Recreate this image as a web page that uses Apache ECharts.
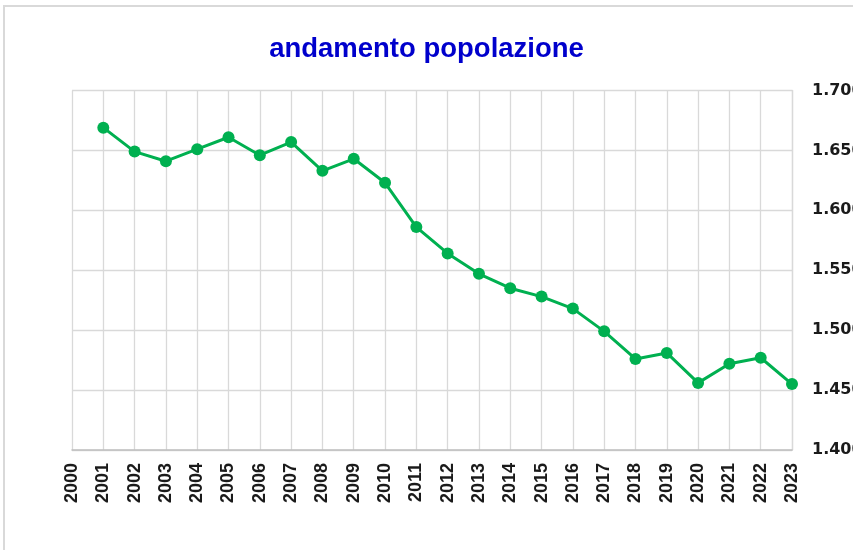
<!DOCTYPE html>
<html>
<head>
<meta charset="utf-8">
<script src="https://cdn.jsdelivr.net/npm/echarts@6/dist/echarts.min.js"></script>
<style>
html,body{margin:0;padding:0;background:#fff;}
#chart{width:853px;height:550px;}
</style>
</head>
<body>
<div id="chart"></div>
<script>
const titleText = 'andamento popolazione';
const years = [2001,2002,2003,2004,2005,2006,2007,2008,2009,2010,2011,2012,2013,2014,2015,2016,2017,2018,2019,2020,2021,2022,2023];
const population = [1669,1649,1641,1651,1661,1646,1657,1633,1643,1623,1586,1564,1547,1535,1528,1518,1499,1476,1481,1456,1472,1477,1455];
const xMin = 2000, xMax = 2023;
const yMin = 1400, yMax = 1700, yStep = 50;

function itNum(v){
  return String(Math.round(v)).replace(/\B(?=(\d{3})+(?!\d))/g, '.');
}

const chart = echarts.init(document.getElementById('chart'));
chart.setOption({
  animation: false,
  backgroundColor: '#ffffff',
  graphic: [{
    type: 'rect',
    shape: {x: 4, y: 6, width: 900, height: 600},
    style: {fill: 'none', stroke: '#d9d9d9', lineWidth: 2},
    silent: true,
    z: -1
  }],
  title: {
    text: titleText,
    left: 'center',
    top: 30,
    textStyle: {
      fontFamily: 'Liberation Sans',
      fontWeight: 'bold',
      fontSize: 27.5,
      color: '#0000CC'
    }
  },
  grid: {left: 72, right: 61, top: 90.5, bottom: 100, containLabel: false, outerBoundsMode: 'none'},
  xAxis: {
    type: 'value',
    min: xMin,
    max: xMax,
    interval: 1,
    axisLine: {show: true, lineStyle: {color: '#bfbfbf', width: 1.5}},
    axisTick: {show: false},
    splitLine: {show: true, lineStyle: {color: '#d9d9d9', width: 1.3}},
    axisLabel: {
      rotate: 90,
      margin: 13,
      formatter: v => String(v),
      fontFamily: 'Liberation Sans',
      fontWeight: 'bold',
      fontSize: 18,
      color: '#1a1a1a'
    }
  },
  yAxis: {
    type: 'value',
    position: 'right',
    min: yMin,
    max: yMax,
    interval: yStep,
    axisLine: {show: true, lineStyle: {color: '#d9d9d9', width: 1.3}},
    axisTick: {show: false},
    splitLine: {show: true, lineStyle: {color: '#d9d9d9', width: 1.3}},
    axisLabel: {
      margin: 20,
      formatter: v => itNum(v),
      fontFamily: 'DejaVu Sans',
      fontWeight: 'bold',
      fontSize: 16,
      color: '#1a1a1a'
    }
  },
  series: [{
    type: 'line',
    data: years.map((y, i) => [y, population[i]]),
    symbol: 'circle',
    symbolSize: 12,
    lineStyle: {color: '#00B050', width: 3},
    itemStyle: {color: '#00B050'},
    z: 5
  }]
});
</script>
</body>
</html>
